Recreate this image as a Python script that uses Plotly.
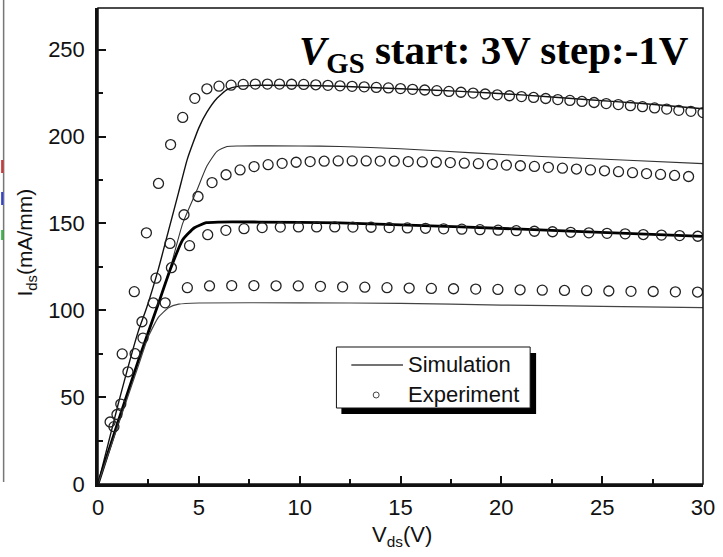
import plotly.graph_objects as go

# ---------------- data ----------------
# Simulation curves (V_GS = 3, 2, 1, 0 V)
sim_x1 = [0, 1, 2, 2.4, 3, 3.5, 4, 4.43, 5, 5.4, 5.9, 6.4, 7, 8, 10, 12, 15, 18, 21, 24, 27, 30]
sim_y1 = [0, 46, 88, 101, 124, 146, 168, 187, 205, 214, 222, 227, 229, 229.5, 229.4, 229, 227.5, 226, 224, 221.5, 219, 216]

sim_x2 = [0, 1, 2, 3, 3.6, 4.2, 4.9, 5.4, 5.9, 6.4, 7, 10, 12, 15, 18.6, 22, 26, 30]
sim_y2 = [0, 36, 71, 104, 125, 150, 169, 183, 191.5, 194.3, 194.6, 194.6, 194.3, 193, 190.6, 188.5, 186.5, 184.4]

sim_x3 = [0, 1, 2, 3, 3.6, 4.2, 4.78, 5.37, 6, 8, 12, 18, 24, 30]
sim_y3 = [0, 36, 71, 104, 124, 140.6, 147.5, 150.4, 150.8, 150.8, 150.3, 148, 145.3, 142.5]

sim_x4 = [0, 1, 2, 2.5, 3, 3.5, 4, 5, 10, 15, 20, 25, 30]
sim_y4 = [0, 34, 68, 85, 96, 101.5, 103.5, 104.2, 104.3, 104, 103, 102.3, 101.5]

# Experiment curves
exp_x1 = [0.6, 1.2, 1.8, 2.4, 3.0, 3.6, 4.2, 4.8, 5.4, 6.0, 6.6, 7.2, 7.8, 8.4, 9.0, 9.6,
          10.2, 10.8, 11.4, 12.0, 12.6, 13.2, 13.8, 14.4, 15.0, 15.6, 16.2, 16.8, 17.4, 18.0,
          18.6, 19.2, 19.8, 20.4, 21.0, 21.6, 22.2, 22.8, 23.4, 24.0, 24.6, 25.2, 25.8, 26.4,
          27.0, 27.6, 28.2, 28.8, 29.4, 30.0]
exp_y1 = [35.7, 74.9, 110.7, 144.6, 173, 195.4, 211, 222, 227.5, 229, 229.6, 230, 230.2, 230.2,
          230.2, 230.1, 230, 229.8, 229.5, 229.2, 228.9, 228.6, 228.3, 228, 227.6, 227.2, 226.8,
          226.4, 226, 225.5, 225, 224.5, 224, 223.5, 223, 222.5, 221.9, 221.3, 220.8, 220.2,
          219.6, 219, 218.4, 217.8, 217.2, 216.5, 215.8, 215.1, 214.5, 213.8]

exp_x2 = [0.79, 1.485, 2.18, 2.875, 3.57, 4.265, 4.96, 5.655, 6.35, 7.045, 7.74, 8.435, 9.13,
          9.825, 10.52, 11.215, 11.91, 12.605, 13.3, 13.995, 14.69, 15.385, 16.08, 16.775,
          17.47, 18.165, 18.86, 19.555, 20.25, 20.945, 21.64, 22.335, 23.03, 23.725, 24.42,
          25.115, 25.81, 26.505, 27.2, 27.895, 28.59, 29.285]
exp_y2 = [33, 64.6, 93.4, 118.5, 138.5, 155, 165.5, 173.5, 178, 180.8, 182.7, 183.8, 184.6,
          185.2, 185.6, 185.8, 186, 186, 186, 185.9, 185.8, 185.6, 185.4, 185.2, 185, 184.7,
          184.4, 184, 183.6, 183.2, 182.8, 182.3, 181.8, 181.3, 180.8, 180.3, 179.8, 179.2,
          178.7, 178.2, 177.6, 177]

exp_x3 = [0.94, 1.84, 2.74, 3.64, 4.54, 5.44, 6.34, 7.24, 8.14, 9.04, 9.94, 10.84, 11.74,
          12.64, 13.54, 14.44, 15.34, 16.24, 17.14, 18.04, 18.94, 19.84, 20.74, 21.64, 22.54,
          23.44, 24.34, 25.24, 26.14, 27.04, 27.94, 28.84, 29.74]
exp_y3 = [40, 75, 104.3, 124.5, 137.2, 143.5, 146, 147, 147.6, 147.9, 148, 148, 148, 147.9,
          147.8, 147.6, 147.4, 147.2, 146.9, 146.7, 146.4, 146.1, 145.8, 145.5, 145.2, 144.9,
          144.6, 144.3, 144, 143.6, 143.3, 143, 142.6]

exp_x4 = [1.13, 2.23, 3.33, 4.43, 5.53, 6.63, 7.73, 8.83, 9.93, 11.03, 12.13, 13.23, 14.33,
          15.43, 16.53, 17.63, 18.73, 19.83, 20.93, 22.03, 23.13, 24.23, 25.33, 26.43, 27.53,
          28.63, 29.73]
exp_y4 = [46, 84, 104.3, 113, 114, 114.2, 114.2, 114.1, 114, 113.8, 113.5, 113.3, 113, 112.8,
          112.6, 112.4, 112.2, 112, 111.8, 111.6, 111.4, 111.3, 111.1, 110.9, 110.8, 110.6, 110.5]

x_ticks = [0, 5, 10, 15, 20, 25, 30]
y_ticks = [0, 50, 100, 150, 200, 250]

# ---------------- layout geometry (pixels) ----------------
W, H = 723, 557
L, R, T, B = 98, 16, 8, 73
PW, PH = W - L - R, H - T - B


def px(x):
    return (x - L) / PW


def py(y):
    return (H - B - y) / PH


fig = go.Figure()

sim_styles = [
    (sim_x1, sim_y1, "#111111", 1.4),
    (sim_x2, sim_y2, "#333333", 1.1),
    (sim_x3, sim_y3, "#000000", 2.8),
    (sim_x4, sim_y4, "#444444", 1.2),
]
for xs, ys, c, w in sim_styles:
    fig.add_trace(go.Scatter(x=xs, y=ys, mode="lines",
                             line=dict(color=c, width=w, shape="spline", smoothing=0.5),
                             showlegend=False, hoverinfo="skip"))

for xs, ys in [(exp_x1, exp_y1), (exp_x2, exp_y2), (exp_x3, exp_y3), (exp_x4, exp_y4)]:
    fig.add_trace(go.Scatter(x=xs, y=ys, mode="markers",
                             marker=dict(symbol="circle-open", size=10, color="#222222",
                                         line=dict(width=1.3, color="#222222")),
                             showlegend=False, hoverinfo="skip"))

shapes = []
# frame (top/right thin)
shapes.append(dict(type="rect", xref="paper", yref="paper", x0=0, x1=1, y0=0, y1=1,
                   line=dict(color="#111111", width=1.5), layer="above"))
# cropped neighbouring figure edge on far left
shapes.append(dict(type="line", xref="paper", yref="paper", x0=px(3), x1=px(3), y0=py(0), y1=py(482),
                   line=dict(color="#777777", width=1.5)))
for (y0, y1, c) in [(160, 173, "#e03030"), (192, 205, "#3040e0"), (230, 240, "#30c040")]:
    shapes.append(dict(type="line", xref="paper", yref="paper", x0=px(1.5), x1=px(1.5),
                       y0=py(y0), y1=py(y1), line=dict(color=c, width=2)))

# legend: shadow, box, line sample, circle sample
shapes.append(dict(type="rect", xref="paper", yref="paper", x0=px(343), x1=px(539), y0=py(414), y1=py(353),
                   line=dict(width=0), fillcolor="#000000", layer="above"))
shapes.append(dict(type="rect", xref="paper", yref="paper", x0=px(338), x1=px(533), y0=py(408), y1=py(347),
                   line=dict(color="#111111", width=1), fillcolor="#ffffff", layer="above"))
shapes.append(dict(type="line", xref="paper", yref="paper", x0=px(353), x1=px(405), y0=py(365), y1=py(365),
                   line=dict(color="#444444", width=1.3), layer="above"))
shapes.append(dict(type="circle", xref="paper", yref="paper", x0=px(375), x1=px(381), y0=py(398), y1=py(392),
                   line=dict(color="#444444", width=1), layer="above"))

annotations = [
    dict(text="Simulation", xref="paper", yref="paper", x=px(408), y=py(364), xanchor="left",
         yanchor="middle", showarrow=False, font=dict(family="Liberation Sans, Arial", size=22, color="#111111")),
    dict(text="Experiment", xref="paper", yref="paper", x=px(408), y=py(394), xanchor="left",
         yanchor="middle", showarrow=False, font=dict(family="Liberation Sans, Arial", size=22, color="#111111")),
    dict(text="<b><i>V</i><sub>GS</sub> start: 3V step:-1V</b>", xref="paper", yref="paper",
         x=px(298), y=py(53), xanchor="left", yanchor="middle", showarrow=False,
         font=dict(family="Liberation Serif, Times New Roman", size=41, color="#000000")),
    dict(text="I<sub>ds</sub>(mA/mm)", xref="paper", yref="paper", x=px(26), y=py(242),
         xanchor="center", yanchor="middle", textangle=-90, showarrow=False,
         font=dict(family="Liberation Sans, Arial", size=21, color="#111111")),
    dict(text="V<sub>ds</sub>(V)", xref="paper", yref="paper", x=px(404), y=py(536),
         xanchor="center", yanchor="middle", showarrow=False,
         font=dict(family="Liberation Sans, Arial", size=22, color="#111111")),
]

axis_common = dict(showgrid=False, zeroline=False, showline=True, linecolor="#111111", linewidth=2.5,
                   ticks="inside", ticklen=8, tickwidth=2, tickcolor="#111111",
                   tickfont=dict(family="Liberation Sans, Arial", size=22, color="#111111"),
                   mirror=False)

fig.update_layout(
    width=W, height=H,
    margin=dict(l=L, r=R, t=T, b=B, pad=0),
    paper_bgcolor="white", plot_bgcolor="white",
    showlegend=False,
    shapes=shapes, annotations=annotations,
    xaxis=dict(range=[0, 30], tickvals=x_ticks, ticktext=[str(v) for v in x_ticks],
               minor=dict(ticks="inside", ticklen=5, tickwidth=2, tickcolor="#111111", dtick=2.5, showgrid=False),
               ticklabelstandoff=2, **axis_common),
    yaxis=dict(range=[0, 274], tickvals=y_ticks, ticktext=[str(v) for v in y_ticks],
               minor=dict(ticks="inside", ticklen=5, tickwidth=2, tickcolor="#111111", dtick=25, showgrid=False),
               ticklabelstandoff=6, **axis_common),
)

fig.write_html("out.html")
